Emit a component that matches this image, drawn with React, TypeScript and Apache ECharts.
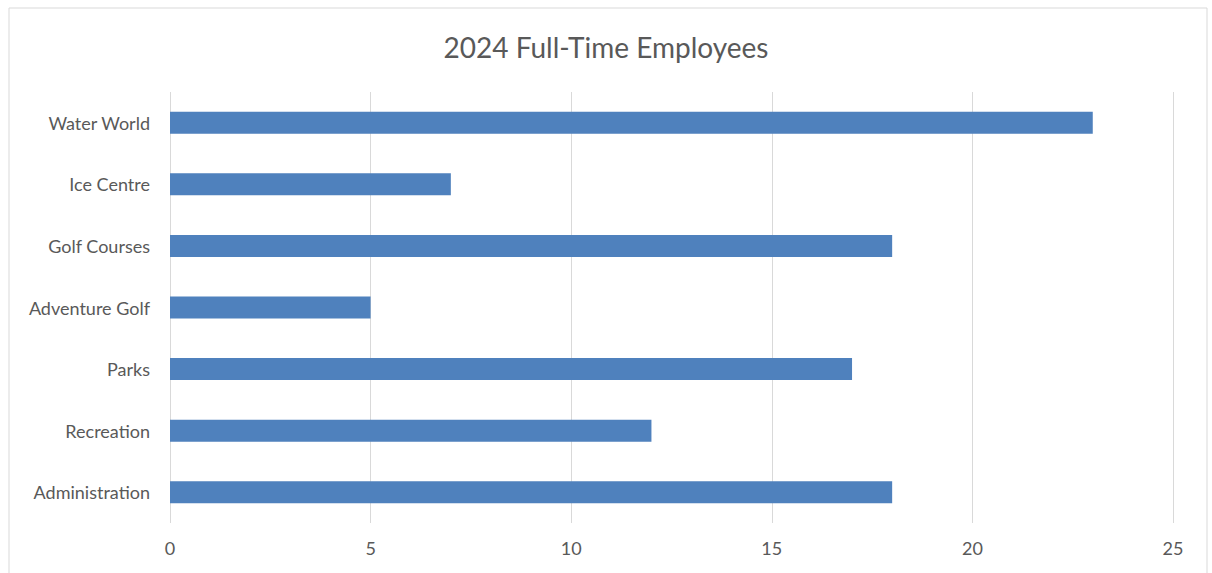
import React, { useEffect, useRef } from "react";
import * as echarts from "echarts";

const categories = ["Water World", "Ice Centre", "Golf Courses", "Adventure Golf", "Parks", "Recreation", "Administration"];
const employees = [23, 7, 18, 5, 17, 12, 18];
const titleText = "2024 Full-Time Employees";

export default function App() {
  const ref = useRef<HTMLDivElement>(null);
  useEffect(() => {
    document.body.style.margin = "0";
    const chart = echarts.init(ref.current!, null, { renderer: "svg" });
    const font = "Lato, 'Open Sans', sans-serif";
    chart.setOption({
      animation: false,
      title: {
        text: titleText,
        left: "center",
        top: 28,
        textStyle: { fontFamily: font, fontSize: 28, fontWeight: "normal", color: "#595959" },
      },
      graphic: [
        {
          type: "rect",
          shape: { x: 9, y: 8, width: 1198, height: 600 },
          style: { fill: "none", stroke: "#D9D9D9", lineWidth: 1 },
          silent: true,
        },
      ],
      grid: { left: 170, right: 39, top: 92, bottom: 50, containLabel: false },
      xAxis: {
        type: "value",
        min: 0,
        max: 25,
        interval: 5,
        axisLine: { show: false },
        axisTick: { show: false },
        axisLabel: { color: "#595959", fontFamily: font, fontSize: 18, margin: 16 },
        splitLine: { show: true, lineStyle: { color: "#D9D9D9", width: 1 } },
      },
      yAxis: {
        type: "category",
        data: categories,
        inverse: true,
        axisLine: { show: false },
        axisTick: { show: false },
        axisLabel: { color: "#595959", fontFamily: font, fontSize: 18, margin: 20 },
        splitLine: { show: false },
      },
      series: [
        {
          type: "bar",
          data: employees,
          barWidth: 22,
          itemStyle: { color: "#4F81BD" },
        },
      ],
    });
    return () => chart.dispose();
  }, []);
  return <div ref={ref} style={{ width: 1212, height: 573, position: "absolute", left: 0, top: 0 }} />;
}
